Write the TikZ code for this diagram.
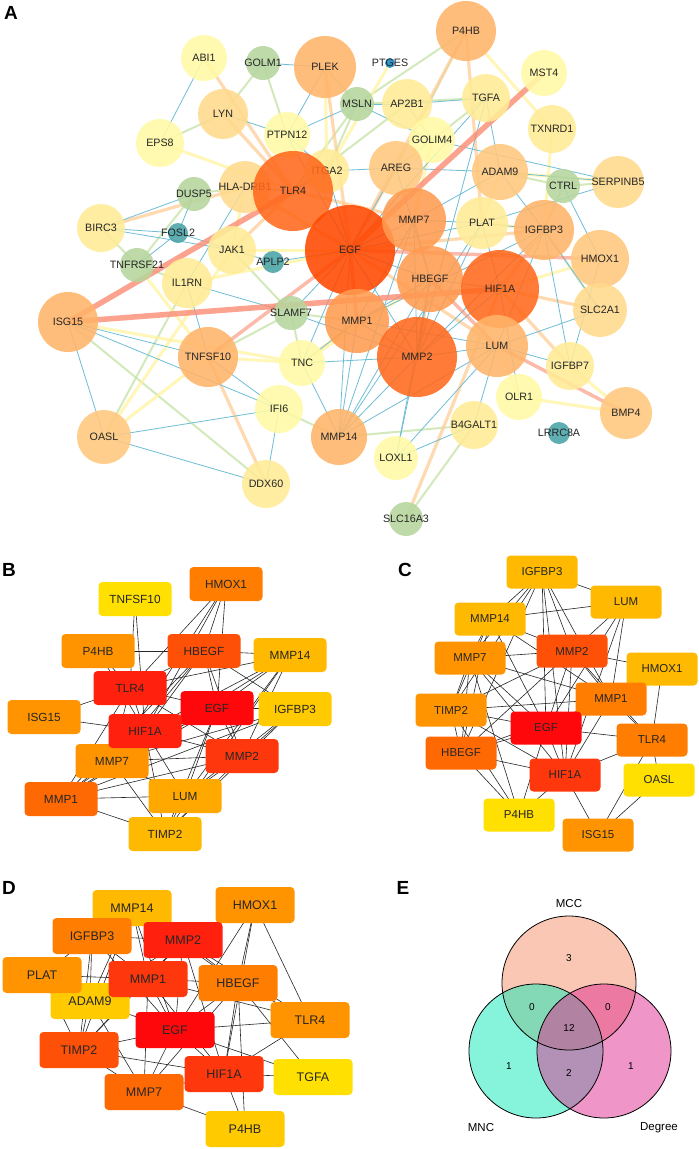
\documentclass[tikz,border=0pt]{standalone}
\usepackage{fontspec}
\setmainfont{Liberation Sans}
\usetikzlibrary{
  backgrounds,
}
% circle colours, panel A
\definecolor{gRed}{RGB}{255,72,0}
\definecolor{gRedOr}{RGB}{255,105,28}
\definecolor{gOrA}{RGB}{255,155,80}
\definecolor{gOrB}{RGB}{255,180,105}
\definecolor{gOrC}{RGB}{255,200,125}
\definecolor{gOrD}{RGB}{255,218,140}
\definecolor{gYeA}{RGB}{255,235,150}
\definecolor{gYeB}{RGB}{255,250,165}
\definecolor{gGreen}{RGB}{182,214,158}
\definecolor{gTeal}{RGB}{72,163,168}
\definecolor{gBlue}{RGB}{22,138,196}
% edge colours, panel A
\definecolor{eBlue}{RGB}{110,190,215}
\definecolor{eGreen}{RGB}{200,228,170}
\definecolor{eYel}{RGB}{255,243,160}
\definecolor{eOr}{RGB}{255,205,150}
\definecolor{eSal}{RGB}{250,140,115}
% box colours, panels B-D
\definecolor{h0}{RGB}{255,8,12}
\definecolor{h1}{RGB}{255,32,14}
\definecolor{h2}{RGB}{255,55,12}
\definecolor{h3}{RGB}{255,80,8}
\definecolor{h4}{RGB}{255,105,4}
\definecolor{h5}{RGB}{255,125,0}
\definecolor{h6}{RGB}{255,148,0}
\definecolor{h7}{RGB}{255,168,0}
\definecolor{h8}{RGB}{255,185,0}
\definecolor{h9}{RGB}{255,203,0}
\definecolor{h10}{RGB}{255,224,0}
% venn colours
\definecolor{vMCC}{RGB}{245,145,105}
\definecolor{vMNC}{RGB}{15,235,185}
\definecolor{vDeg}{RGB}{225,45,145}
\tikzset{
  gene/.style={inner sep=0pt, text=black!85, font=\fontsize{10.7}{12}\selectfont},
  panel/.style={inner sep=0pt, font=\fontsize{19}{20}\selectfont\bfseries},
  eblue/.style={draw=eBlue, line width=0.8pt},
  egreen/.style={draw=eGreen, line width=2pt, opacity=0.8},
  eyel/.style={draw=eYel, line width=3pt, opacity=0.75},
  eor/.style={draw=eOr, line width=3.2pt, opacity=0.75},
  esalm/.style={draw=eSal, line width=3.5pt, opacity=0.6},
  esalthick/.style={draw=eSal, line width=5.5pt, opacity=0.8},
  hub/.style={rectangle, rounded corners=4pt, inner sep=0pt, text=black!85},
  hubB/.style={hub, minimum width=73pt, minimum height=34pt, font=\fontsize{11.8}{13}\selectfont},
  hubC/.style={hub, minimum width=71pt, minimum height=33pt, font=\fontsize{11.5}{13}\selectfont},
  hubD/.style={hub, minimum width=79pt, minimum height=36pt, font=\fontsize{12.5}{14}\selectfont},
  hublink/.style={draw=black!85, line width=0.6pt},
  venn/.style={inner sep=0pt, font=\fontsize{11.5}{13}\selectfont},
  count/.style={inner sep=0pt, font=\fontsize{10}{12}\selectfont},
}

\begin{document}
\begin{tikzpicture}[x=1pt, y=-1pt]
  \useasboundingbox (0,0) rectangle (699,1149);

  % panel letters
  \node [panel] (labA) at (11,13) {A};
  \node [panel] (labB) at (9,570) {B};
  \node [panel] (labC) at (405,570) {C};
  \node [panel] (labD) at (9,888) {D};
  \node [panel] (labE) at (403,888) {E};

  % A: PPI network
  \foreach \id/\px/\py/\rad/\col/\txt in {
    abi1/204/58/23/gYeB/ABI1, golm1/263/63/17/gGreen/GOLM1,
    ptges/390/63/5/gBlue/PTGES, mst4/544/73/23/gYeB/MST4,
    eps8/160/143/24/gYeB/EPS8, msln/357/104/17/gGreen/MSLN,
    ap2b1/407/104/25/gYeA/AP2B1, tgfa/486/98/24/gYeA/TGFA,
    txnrd1/552/129/24/gYeA/TXNRD1, ptpn12/287/135/23/gYeB/PTPN12,
    golim4/432/140/23/gYeB/GOLIM4, lyn/223/114/25/gOrD/LYN,
    plek/325/67/31/gOrB/PLEK, p4hb/466/31/30/gOrB/P4HB,
    itga2/327/171/22/gYeA/ITGA2, dusp5/194/194/17/gGreen/DUSP5,
    ctrl/563/186/17/gGreen/CTRL, serpinb5/618/182/26/gOrD/SERPINB5,
    areg/396/168/27/gOrC/AREG, adam9/500/172/28/gOrC/ADAM9,
    birc3/101/228/24/gYeA/BIRC3, fosl2/178/233/10/gTeal/FOSL2,
    hla/245/187/26/gOrD/HLA-DRB1, tlr4/293/191/40/gRedOr/TLR4,
    plat/482/223/26/gYeA/PLAT, igfbp3/544/230/30/gOrB/IGFBP3,
    tnfrsf21/137/265/17/gGreen/TNFRSF21, jak1/232/250/24/gYeA/JAK1,
    aplp2/273/262/11/gTeal/APLP2, il1rn/187/283/25/gYeA/IL1RN,
    isg15/68/322/30/gOrB/ISG15, slamf7/291/313/17/gGreen/SLAMF7,
    egf/350/250/45/gRed/EGF, mmp7/414/220/32/gOrA/MMP7,
    hbegf/430/279/33/gOrA/HBEGF, mmp1/357/321/32/gOrA/MMP1,
    hmox1/600/259/29/gOrC/HMOX1, slc2a1/600/310/27/gOrD/SLC2A1,
    hif1a/500/289/39/gRedOr/HIF1A, mmp2/417/357/40/gRedOr/MMP2,
    lum/497/346/31/gOrB/LUM, tnfsf10/208/357/30/gOrB/TNFSF10,
    tnc/302/363/23/gYeB/TNC, igfbp7/570/366/24/gYeA/IGFBP7,
    olr1/519/397/23/gYeB/OLR1, bmp4/626/413/26/gOrC/BMP4,
    ifi6/279/409/24/gYeB/IFI6, b4galt1/474/425/24/gYeA/B4GALT1,
    oasl/104/437/27/gOrC/OASL, mmp14/339/437/28/gOrB/MMP14,
    loxl1/396/458/22/gYeB/LOXL1, lrrc8a/559/433/11/gTeal/LRRC8A,
    ddx60/266/484/24/gYeA/DDX60, slc16a3/406/519/17/gGreen/SLC16A3}
  {
    \fill [\col, opacity=0.88] (\px,\py) circle (\rad pt);
    \node [gene] (\id) at (\px,\py) {\txt};
  }

  \begin{pgfonlayer}{background}
    \fill [white] (0,0) rectangle (699,1149);
    \foreach \a/\b in {lyn/golm1, eps8/lyn, isg15/ddx60, b4galt1/mmp14,
      slc16a3/b4galt1, tnfrsf21/birc3, msln/tlr4, msln/plek, msln/itga2,
      slamf7/tnfsf10, slamf7/jak1, ctrl/igfbp3, ctrl/serpinb5, golim4/ap2b1,
      tgfa/msln, dusp5/hla, slamf7/mmp1, slamf7/tnc, ifi6/mmp14, golm1/ptpn12,
      tnfrsf21/il1rn, ap2b1/tlr4, p4hb/msln, p4hb/areg, tgfa/areg, ctrl/adam9,
      slc2a1/igfbp3, oasl/il1rn, dusp5/tnfrsf21}
      \draw [egreen] (\a.center) -- (\b.center);
    \foreach \a/\b in {eps8/tlr4, plek/itga2, tnfsf10/tnc, jak1/egf,
      oasl/tnfsf10, isg15/tnc, p4hb/txnrd1, adam9/serpinb5, plat/adam9,
      igfbp3/plat, hbegf/tnc, mmp1/tnc, tnfrsf21/tnfsf10, hif1a/hmox1,
      olr1/bmp4, igfbp7/bmp4, lum/olr1, ptges/itga2, txnrd1/igfbp3, jak1/hla,
      golim4/mmp7, il1rn/egf, oasl/jak1}
      \draw [eyel] (\a.center) -- (\b.center);
    \foreach \a/\b in {plek/egf, p4hb/egf, p4hb/plat, abi1/tlr4, lyn/tlr4,
      birc3/hla, tnfsf10/ddx60, slc16a3/hif1a, hif1a/slc2a1, hif1a/igfbp7,
      tlr4/mmp7, egf/areg, mmp2/hbegf, igfbp3/hif1a, egf/igfbp3, egf/lum,
      tlr4/jak1, hla/egf}
      \draw [eor] (\a.center) -- (\b.center);
    \foreach \a/\b in {abi1/eps8, golm1/plek, lyn/ptpn12, plek/ptpn12,
      dusp5/birc3, dusp5/fosl2, birc3/fosl2, fosl2/jak1, fosl2/tnfrsf21,
      jak1/aplp2, aplp2/egf, il1rn/slamf7, il1rn/tnfsf10, isg15/oasl,
      isg15/ifi6, isg15/tnfsf10, oasl/ifi6, oasl/ddx60, ifi6/ddx60,
      tnfsf10/ifi6, tnc/mmp1, tnc/mmp2, tnc/egf, mmp14/mmp1, mmp14/mmp2,
      mmp14/egf, mmp14/hbegf, mmp14/lum, mmp14/mmp7, mmp14/plat, mmp14/tnc,
      loxl1/b4galt1, loxl1/mmp2, loxl1/lum, loxl1/hbegf, b4galt1/lum,
      ap2b1/tgfa, ap2b1/msln, msln/golim4, golim4/serpinb5, tgfa/egf,
      tgfa/mmp2, tgfa/adam9, areg/adam9, areg/egf, areg/hbegf, adam9/igfbp3,
      adam9/mmp7, plat/mmp7, plat/mmp2, plat/hif1a, plat/igfbp3, ctrl/hmox1,
      igfbp3/mmp1, igfbp3/mmp2, igfbp3/lum, igfbp3/igfbp7, hmox1/igfbp7,
      hbegf/hif1a, hbegf/mmp2, hbegf/mmp1, hbegf/egf, mmp7/mmp1, mmp7/mmp2,
      mmp7/hbegf, mmp1/mmp2, mmp1/lum, mmp2/lum, mmp2/hif1a, tlr4/hla,
      tlr4/itga2, itga2/egf, itga2/ptpn12, ptpn12/egf, slamf7/egf,
      slamf7/mmp2, egf/mmp2, egf/mmp7, egf/plat, lum/igfbp7, olr1/hif1a,
      slc2a1/lum, slc2a1/igfbp3, ptpn12/msln, itga2/areg, hla/il1rn,
      birc3/jak1, serpinb5/plat, serpinb5/adam9}
      \draw [eblue] (\a.center) -- (\b.center);
    \foreach \a/\b in {tnfsf10/egf, lum/bmp4, egf/hmox1, hbegf/lum, egf/mmp1}
      \draw [esalm] (\a.center) -- (\b.center);
    \foreach \a/\b in {isg15/tlr4, isg15/hif1a, mst4/egf}
      \draw [esalthick] (\a.center) -- (\b.center);
  \end{pgfonlayer}

  % B: MCC top 15
  \foreach \id/\px/\py/\col in {TNFSF10/135/599/h10, HMOX1/226/584/h5,
    P4HB/98/651/h6, HBEGF/204/651/h3, MMP14/290/655/h8, TLR4/130/688/h1,
    EGF/217/708/h0, IGFBP3/295/709/h9, ISG15/44/717/h6, MMP7/112/761/h6,
    HIF1A/145/731/h1, MMP2/242/756/h2, MMP1/61/799/h4, LUM/185/796/h7,
    TIMP2/165/834/h8}
    \node [hubB, fill=\col] (b\id) at (\px,\py) {\id};

  % C: MNC top 15
  \foreach \id/\px/\py/\col in {IGFBP3/542/572/h8, LUM/626/602/h8,
    MMP14/490/619/h8, MMP7/470/658/h6, MMP2/572/651/h3, HMOX1/662/669/h8,
    MMP1/611/699/h5, TIMP2/451/710/h6, EGF/546/728/h0, TLR4/652/740/h5,
    HBEGF/461/753/h4, HIF1A/565/775/h2, OASL/659/780/h10, P4HB/519/815/h10,
    ISG15/598/835/h6}
    \node [hubC, fill=\col] (c\id) at (\px,\py) {\id};

  % D: Degree top 15
  \foreach \id/\px/\py/\col in {ADAM9/90/1001/h9, MMP14/132/908/h8,
    HMOX1/255/905/h6, IGFBP3/92/936/h5, MMP2/183/940/h1, PLAT/42/975/h6,
    MMP1/148/979/h2, HBEGF/238/983/h5, TLR4/310/1020/h6, EGF/175/1030/h0,
    TIMP2/79/1050/h3, HIF1A/224/1074/h2, TGFA/313/1077/h10,
    MMP7/144/1092/h4, P4HB/245/1129/h9}
    \node [hubD, fill=\col] (d\id) at (\px,\py) {\id};

  \begin{pgfonlayer}{background}
    \foreach \a/\b in {TNFSF10/TLR4, TNFSF10/HIF1A, HMOX1/TLR4, HMOX1/HIF1A,
      HMOX1/EGF, HMOX1/MMP7, HMOX1/HBEGF, P4HB/HBEGF, P4HB/TLR4, P4HB/HIF1A,
      HBEGF/EGF, HBEGF/MMP14, HBEGF/TLR4, HBEGF/HIF1A, HBEGF/MMP2,
      HBEGF/IGFBP3, HBEGF/MMP1, HBEGF/MMP7, MMP14/EGF, MMP14/MMP2, MMP14/MMP1,
      MMP14/TLR4, MMP14/TIMP2, MMP14/HIF1A, MMP14/LUM, TLR4/ISG15, TLR4/EGF,
      TLR4/HIF1A, TLR4/MMP2, TLR4/MMP7, TLR4/MMP1, EGF/IGFBP3, EGF/HIF1A,
      EGF/MMP2, EGF/MMP7, EGF/MMP1, EGF/LUM, EGF/TIMP2, IGFBP3/MMP2,
      IGFBP3/MMP7, IGFBP3/LUM, IGFBP3/TIMP2, IGFBP3/MMP1, ISG15/HIF1A,
      HIF1A/MMP2, HIF1A/MMP7, HIF1A/MMP1, HIF1A/LUM, HIF1A/TIMP2, MMP2/MMP7,
      MMP2/MMP1, MMP2/LUM, MMP2/TIMP2, MMP7/MMP1, MMP7/LUM, MMP7/TIMP2,
      MMP1/LUM, MMP1/TIMP2, LUM/TIMP2}
      \draw [hublink] (b\a.center) -- (b\b.center);
    \foreach \a/\b in {IGFBP3/LUM, IGFBP3/MMP14, IGFBP3/MMP7, IGFBP3/MMP2,
      IGFBP3/MMP1, IGFBP3/TIMP2, IGFBP3/EGF, IGFBP3/HBEGF, IGFBP3/HIF1A,
      LUM/MMP14, LUM/MMP2, LUM/MMP1, LUM/EGF, LUM/HIF1A, MMP14/MMP7,
      MMP14/MMP2, MMP14/TIMP2, MMP14/EGF, MMP14/HBEGF, MMP14/MMP1, MMP7/MMP2,
      MMP7/TIMP2, MMP7/EGF, MMP7/HBEGF, MMP7/MMP1, MMP7/HIF1A, MMP7/P4HB,
      MMP2/HMOX1, MMP2/MMP1, MMP2/TIMP2, MMP2/EGF, MMP2/HBEGF, MMP2/HIF1A,
      MMP2/TLR4, HMOX1/TLR4, HMOX1/MMP1, HMOX1/EGF, MMP1/TIMP2, MMP1/EGF,
      MMP1/TLR4, MMP1/HIF1A, MMP1/HBEGF, TIMP2/EGF, TIMP2/HBEGF, TIMP2/HIF1A,
      TIMP2/P4HB, EGF/TLR4, EGF/HBEGF, EGF/HIF1A, EGF/P4HB, TLR4/HIF1A,
      TLR4/ISG15, HBEGF/HIF1A, HBEGF/P4HB, HIF1A/P4HB, HIF1A/ISG15,
      OASL/ISG15, TLR4/OASL}
      \draw [hublink] (c\a.center) -- (c\b.center);
    \foreach \a/\b in {MMP14/MMP2, MMP14/MMP1, MMP14/IGFBP3, MMP14/EGF,
      MMP14/HBEGF, MMP14/TIMP2, MMP14/ADAM9, HMOX1/MMP2, HMOX1/HBEGF,
      HMOX1/HIF1A, HMOX1/TLR4, HMOX1/EGF, IGFBP3/MMP2, IGFBP3/PLAT,
      IGFBP3/MMP1, IGFBP3/EGF, IGFBP3/TIMP2, IGFBP3/ADAM9, MMP2/MMP1,
      MMP2/HBEGF, MMP2/EGF, MMP2/TIMP2, MMP2/HIF1A, MMP2/TLR4, MMP2/ADAM9,
      PLAT/MMP1, PLAT/ADAM9, PLAT/TIMP2, MMP1/HBEGF, MMP1/EGF, MMP1/TIMP2,
      MMP1/MMP7, MMP1/HIF1A, MMP1/ADAM9, MMP1/TLR4, HBEGF/EGF, HBEGF/TLR4,
      HBEGF/HIF1A, HBEGF/TGFA, HBEGF/P4HB, HBEGF/MMP7, ADAM9/TIMP2,
      ADAM9/EGF, ADAM9/MMP7, EGF/TLR4, EGF/TIMP2, EGF/HIF1A, EGF/MMP7,
      EGF/TGFA, TLR4/HIF1A, TIMP2/HIF1A, TIMP2/MMP7, HIF1A/TGFA, HIF1A/MMP7,
      HIF1A/P4HB, MMP7/P4HB}
      \draw [hublink] (d\a.center) -- (d\b.center);
  \end{pgfonlayer}

  % E: Venn diagram
  \fill [vMCC, fill opacity=0.5] (569,983) circle (67pt);
  \fill [vMNC, fill opacity=0.5] (536,1051) circle (67pt);
  \fill [vDeg, fill opacity=0.5] (604,1051) circle (67pt);
  \draw [line width=0.8pt] (569,983) circle (67pt);
  \draw [line width=0.8pt] (536,1051) circle (67pt);
  \draw [line width=0.8pt] (604,1051) circle (67pt);
  \node [venn] (mcc) at (569,904) {MCC};
  \node [venn] (mnc) at (481,1128) {MNC};
  \node [venn] (deg) at (659,1128) {Degree};
  \node [count] (nA) at (569,958) {3};
  \node [count] (nAB) at (532,1007) {0};
  \node [count] (nAC) at (608,1007) {0};
  \node [count] (nABC) at (569,1028) {12};
  \node [count] (nB) at (509,1066) {1};
  \node [count] (nBC) at (569,1073) {2};
  \node [count] (nC) at (631,1066) {1};
\end{tikzpicture}
\end{document}
